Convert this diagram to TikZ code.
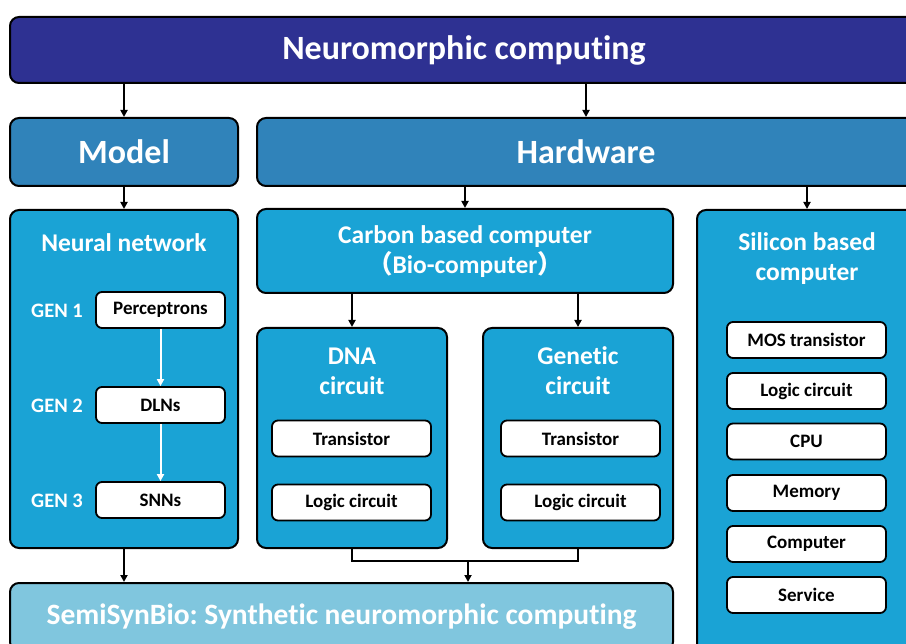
\documentclass[tikz,border=0pt]{standalone}
\usepackage{fontspec}
\setmainfont{Carlito}[Ligatures={NoCommon,NoContextual}]
\newfontfamily\cjk{Noto Sans CJK SC}
\usetikzlibrary{arrows.meta,calc}
\definecolor{topblue}{RGB}{46,49,146}
\definecolor{midblue}{RGB}{48,131,186}
\definecolor{boxblue}{RGB}{26,163,213}
\definecolor{lightblue}{RGB}{128,198,222}
\frenchspacing
\begin{document}
\begin{tikzpicture}[x=1pt,y=-1pt,
  box/.style={draw=black, line width=2pt, rounded corners=9pt, inner sep=0pt,
    text=white, font=\bfseries},
  panel/.style={box, fill=boxblue},
  item/.style={draw=black, line width=1.8pt, rounded corners=6pt, fill=white,
    inner sep=0pt, minimum width=159pt, minimum height=36pt,
    font=\bfseries\fontsize{19}{22}\selectfont},
  title/.style={text=white, inner sep=0pt, align=center,
    font=\bfseries\fontsize{25.5}{30}\selectfont},
  genlabel/.style={text=white, inner sep=0pt, font=\bfseries\fontsize{20.5}{22}\selectfont},
  arr/.style={-{Triangle[length=7pt,width=7pt]}, line width=2pt},
  warr/.style={arr, white},
  big/.style={font=\bfseries\fontsize{34}{38}\selectfont}
]
\useasboundingbox (0,0) rectangle (906,644);
\clip (0,0) rectangle (906,644);

% top level
\node[box, big, fill=topblue, minimum width=908pt, minimum height=66pt] (top) at (464,50) {Neuromorphic computing};

% second level
\node[box, big, fill=midblue, minimum width=228pt, minimum height=68pt] (model) at (124,152) {Model};
\node[box, big, fill=midblue, minimum width=658pt, minimum height=68pt] (hw) at (586,152) {Hardware};

% neural network panel
\node[panel, minimum width=228pt, minimum height=338pt] (nn) at (124,379) {};
\node[title] (nnt) at (124,243) {Neural network};
\node[item, minimum width=129pt] (perc) at (160.5,310) {Perceptrons};
\node[item, minimum width=129pt] (dln) at (160.5,405) {DLNs};
\node[item, minimum width=129pt] (snn) at (160.5,500) {SNNs};
\node[genlabel] (g1) at (57,311) {GEN 1};
\node[genlabel] (g2) at (57,406) {GEN 2};
\node[genlabel] (g3) at (57,501) {GEN 3};
\draw[warr] (perc) -- (dln);
\draw[warr] (dln) -- (snn);

% carbon based branch
\node[panel, minimum width=416pt, minimum height=84pt] (carbon) at (465,251) {};
\node[title] (carbont) at (465,252) {Carbon based computer\\{\cjk （}Bio-computer{\cjk ）}};
\node[panel, minimum width=190pt, minimum height=220pt] (dna) at (352,438) {};
\node[title] (dnat) at (352,371) {DNA\\circuit};
\node[item] (dnatr) at (351.5,438.5) {Transistor};
\node[item] (dnalc) at (351.5,502.5) {Logic circuit};
\node[panel, minimum width=190pt, minimum height=220pt] (gen) at (578,438) {};
\node[title] (gent) at (578,371) {Genetic\\circuit};
\node[item] (gentr) at (580.5,438.5) {Transistor};
\node[item] (genlc) at (580.5,502.5) {Logic circuit};

% silicon based branch
\node[panel, minimum width=220pt, minimum height=450pt] (si) at (807,435) {};
\node[title] (sit) at (807,259) {Silicon based\\computer};
\node[item] (mos) at (806.5,340) {MOS transistor};
\node[item] (silc) at (806.5,391) {Logic circuit};
\node[item] (cpu) at (806.5,441.5) {CPU};
\node[item] (mem) at (806.5,493) {Memory};
\node[item] (comp) at (806.5,544) {Computer};
\node[item] (serv) at (806.5,595) {Service};

% bottom result
\node[box, fill=lightblue, minimum width=663pt, minimum height=68pt,
  font=\bfseries\fontsize{29.5}{32}\selectfont] (semi) at (341.5,617) {SemiSynBio: Synthetic neuromorphic computing};

% connectors
\draw[arr] (top.south -| model.north) -- (model.north);
\draw[arr] (top.south -| hw.north) -- (hw.north);
\draw[arr] (model.south) -- (nn.north);
\draw[arr] (hw.south -| carbon.north) -- (carbon.north);
\draw[arr] (hw.south -| si.north) -- (si.north);
\draw[arr] (carbon.south -| dna.north) -- (dna.north);
\draw[arr] (carbon.south -| gen.north) -- (gen.north);
\draw[arr] (nn.south) -- (nn.south |- semi.north);
\coordinate (join) at (468,561);
\draw[line width=2pt] (dna.south) |- (join) -| (gen.south);
\draw[arr] (join) -- (join |- semi.north);
\end{tikzpicture}
\end{document}
